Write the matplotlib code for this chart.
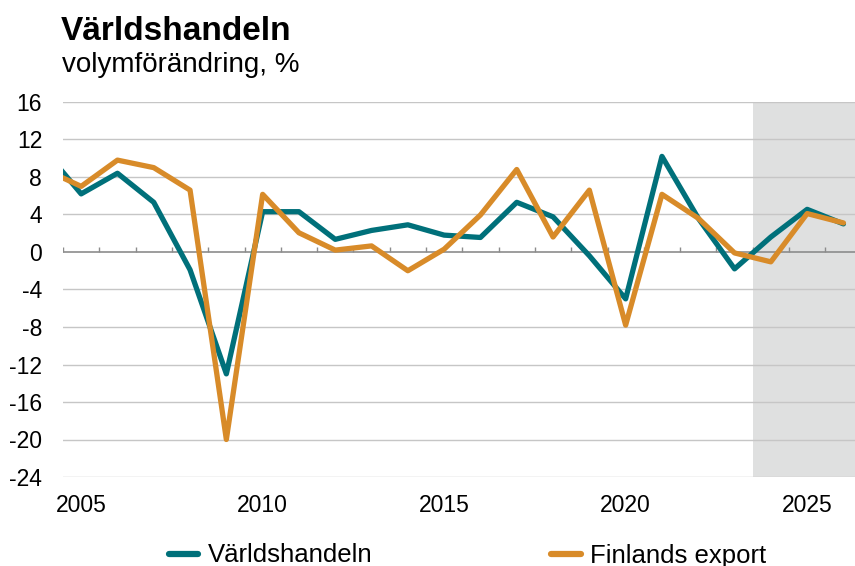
import matplotlib
matplotlib.use("Agg")
import matplotlib.pyplot as plt
import numpy as np

plt.rcParams['font.family'] = ['Liberation Sans', 'DejaVu Sans']

years = list(range(2004, 2027))
varldshandeln = [10.8, 6.2, 8.4, 5.3, -1.9, -13.0, 4.3, 4.3, 1.35, 2.3, 2.9, 1.8, 1.55,
                 5.3, 3.75, -0.4, -5.0, 10.2, 3.6, -1.8, 1.6, 4.55, 3.0]
finlands_export = [8.8, 7.0, 9.8, 9.0, 6.6, -20.0, 6.15, 2.05, 0.2, 0.65, -2.0, 0.3, 3.95,
                   8.8, 1.6, 6.6, -7.8, 6.15, 3.6, -0.1, -1.05, 4.1, 3.1]
yticks = [16, 12, 8, 4, 0, -4, -8, -12, -16, -20, -24]
xlabels = [2005, 2010, 2015, 2020, 2025]
forecast_start = 2023.5

teal = '#00707a'
orange = '#d88b29'

fig = plt.figure(figsize=(8.55, 5.66), dpi=100)
ax = fig.add_axes([63/855, 1-477/566, 1-63/855, (477-102)/566])

xmin = 2004.5
xmax = 2004.5 + (855-63)/36.3
ax.set_xlim(xmin, xmax)
ax.set_ylim(-24, 16)

ax.axvspan(forecast_start, xmax + 1, color='#dfe0e0', zorder=0, lw=0)

for y in yticks:
    if y != 0:
        ax.axhline(y, color='#c6c6c6', lw=1.0, zorder=1)
ax.axhline(0, color='#8c8c8c', lw=1.2, zorder=1)
bounds = np.arange(2004.5, 2027, 1.0)
ax.vlines(bounds, 0, 0.55, color='#8c8c8c', lw=1.0, zorder=1)

ax.plot(years, varldshandeln, color=teal, lw=3.8, zorder=3, label='Världshandeln',
        solid_joinstyle='round', solid_capstyle='round')
ax.plot(years, finlands_export, color=orange, lw=3.8, zorder=4, label='Finlands export',
        solid_joinstyle='round', solid_capstyle='round')

for s in ax.spines.values():
    s.set_visible(False)
ax.set_yticks(yticks)
ax.set_yticklabels([str(v) for v in yticks])
ax.set_xticks(xlabels)
ax.set_xticklabels([str(v) for v in xlabels])
ax.tick_params(axis='both', length=0, labelsize=16.5, colors='black')
ax.tick_params(axis='y', pad=15)
ax.tick_params(axis='x', pad=12)

fig.text(61/855, 1-40/566, 'Världshandeln', fontsize=24, fontweight='bold', ha='left', va='baseline')
fig.text(62/855, 1-72/566, 'volymförändring, %', fontsize=20, ha='left', va='baseline')

leg = fig.legend(loc='center', bbox_to_anchor=(467.5/855, 1-555.5/566), ncol=2, frameon=False,
                 fontsize=18.5, handlelength=1.16, handletextpad=0.35, columnspacing=6.98,
                 borderpad=0)
for h in leg.get_lines():
    h.set_linewidth(4.5)

fig.savefig('out.png', dpi=100)
